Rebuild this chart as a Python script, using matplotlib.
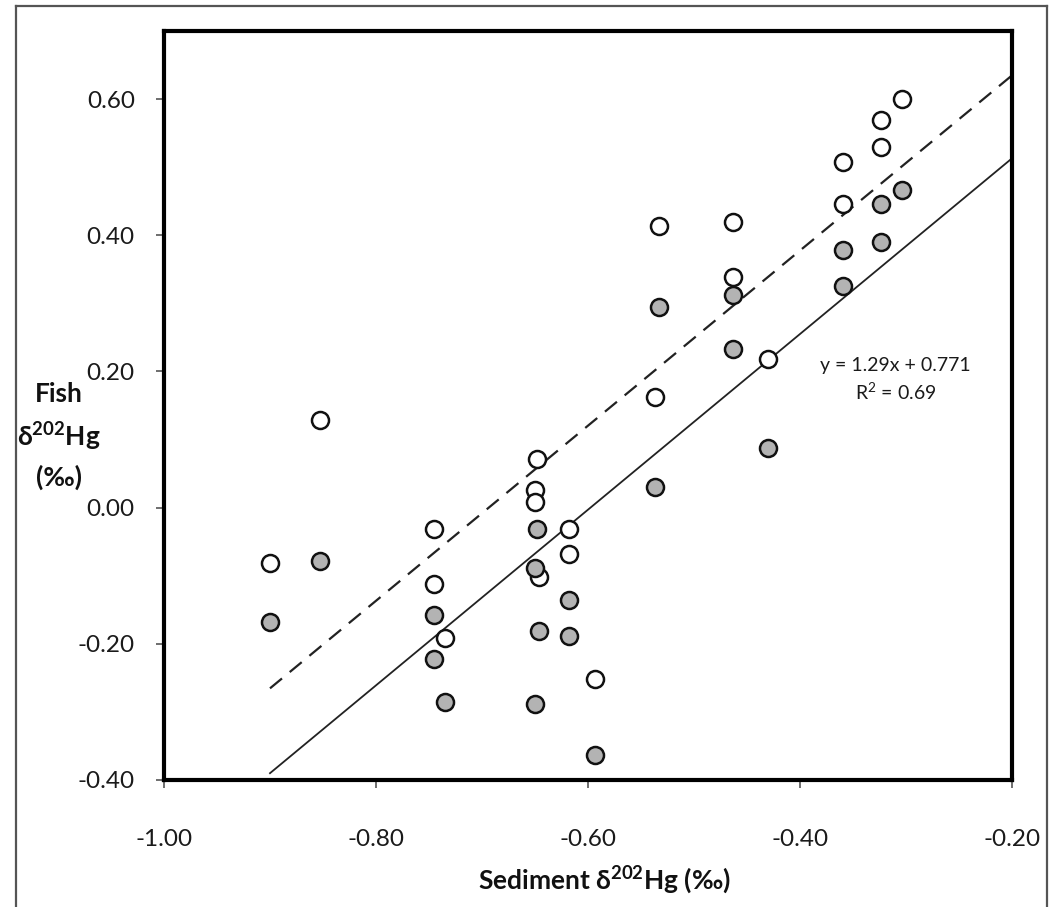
import matplotlib
matplotlib.use("Agg")
import matplotlib.pyplot as plt
import numpy as np
from matplotlib.lines import Line2D

plt.rcParams['font.family'] = ['Lato', 'DejaVu Sans']
plt.rcParams['mathtext.fontset'] = 'custom'
plt.rcParams['mathtext.rm'] = 'Lato'
plt.rcParams['mathtext.bf'] = 'Lato:bold'
plt.rcParams['mathtext.default'] = 'bf'

# ---- data ----
open_x = [-0.900, -0.853, -0.745, -0.745, -0.735, -0.648, -0.650, -0.650, -0.646, -0.618, -0.618,
          -0.593, -0.537, -0.533, -0.463, -0.463, -0.430, -0.359, -0.359, -0.324, -0.324, -0.304]
open_y = [-0.081, 0.129, -0.031, -0.112, -0.191, 0.071, 0.026, 0.009, -0.102, -0.031, -0.068,
          -0.252, 0.163, 0.413, 0.420, 0.339, 0.218, 0.507, 0.446, 0.569, 0.529, 0.600]
filled_x = [-0.900, -0.853, -0.745, -0.745, -0.735, -0.648, -0.650, -0.646, -0.650, -0.618, -0.618,
            -0.593, -0.537, -0.533, -0.463, -0.463, -0.430, -0.359, -0.359, -0.324, -0.324, -0.304]
filled_y = [-0.168, -0.078, -0.157, -0.223, -0.286, -0.031, -0.088, -0.181, -0.289, -0.135, -0.188,
            -0.364, 0.030, 0.294, 0.312, 0.233, 0.087, 0.378, 0.326, 0.446, 0.390, 0.466]

solid_slope, solid_intercept = 1.29, 0.771
dashed_slope, dashed_intercept = 1.286, 0.892
line_x = [-0.90, -0.20]

x_ticks = [-1.00, -0.80, -0.60, -0.40, -0.20]
y_ticks = [-0.40, -0.20, 0.00, 0.20, 0.40, 0.60]
equation_text = "y = 1.29x + 0.771\nR$\\mathrm{^2}$ = 0.69"

# ---- figure ----
fig = plt.figure(figsize=(10.5, 9.07), dpi=100)
ax = fig.add_axes([164/1050, 127/907, (1012-164)/1050, (780-31)/907])

lx = np.array(line_x)
ax.plot(lx, dashed_slope*lx + dashed_intercept, color='#222222', lw=1.6,
        linestyle=(0, (7, 4.5)), zorder=2)
ax.plot(lx, solid_slope*lx + solid_intercept, color='#222222', lw=1.3, zorder=2)

ax.scatter(open_x, open_y, s=150, facecolor='white', edgecolor='#111111',
           linewidth=1.8, zorder=3)
ax.scatter(filled_x, filled_y, s=150, facecolor='#b3b3b3', edgecolor='#111111',
           linewidth=1.8, zorder=4)

ax.set_xlim(-1.0, -0.2)
ax.set_ylim(-0.4, 0.7)
ax.set_xticks(x_ticks)
ax.set_yticks(y_ticks)
ax.set_xticklabels([f"{v:.2f}" for v in x_ticks])
ax.set_yticklabels([f"{v:.2f}" for v in y_ticks])
ax.tick_params(axis='both', direction='out', length=6, width=1.2, color='#555555',
               labelsize=17.5, labelcolor='#1a1a1a')
ax.tick_params(axis='y', pad=15)
ax.tick_params(axis='x', pad=29)
for sp in ax.spines.values():
    sp.set_linewidth(3.0)
    sp.set_color('black')

ax.text(-0.310, 0.188, equation_text, ha='center', va='center', fontsize=14,
        color='#1a1a1a', linespacing=1.4)

fig.text(59/1050, (907-436)/907, "Fish\n\u03b4$^{202}$Hg\n(\u2030)", ha='center', va='center',
         fontsize=19, fontweight='bold', linespacing=1.55, color='#111111')
fig.text(604/1050, (907-880)/907, "Sediment \u03b4$^{202}$Hg (\u2030)", ha='center', va='center',
         fontsize=19, fontweight='bold', color='#111111')

# outer frame
fx0, fx1, fy1 = 16/1050, 1047/1050, (907-6)/907
for xs, ys in [([fx0, fx0], [0, fy1]), ([fx0, fx1], [fy1, fy1]), ([fx1, fx1], [fy1, 0])]:
    fig.add_artist(Line2D(xs, ys, transform=fig.transFigure, color='#555555', lw=1.6))

fig.savefig("out.png", dpi=100)
